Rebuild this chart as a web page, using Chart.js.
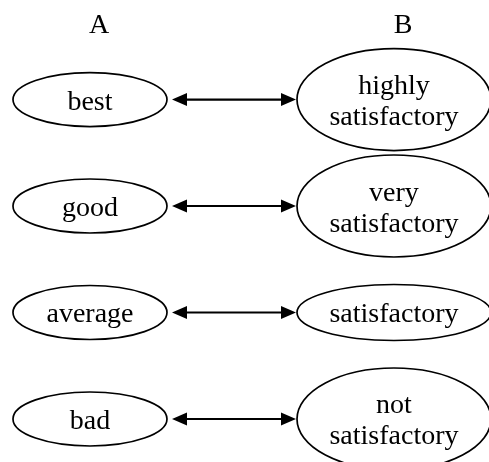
<!DOCTYPE html>
<html>
<head>
<meta charset="utf-8">
<style>
  html, body { margin: 0; padding: 0; background: #ffffff; }
  #wrap { width: 489px; height: 462px; }
</style>
<script src="https://cdn.jsdelivr.net/npm/chart.js@4/dist/chart.umd.min.js"></script>
</head>
<body>
<div id="wrap"><canvas id="c" width="489" height="462"></canvas></div>
<script>
// ---- data ----
const columnHeaders = ['A', 'B'];
const leftNodes = ['best', 'good', 'average', 'bad'];
const rightNodes = [
  ['highly', 'satisfactory'],
  ['very', 'satisfactory'],
  ['satisfactory'],
  ['not', 'satisfactory']
];
const rowIndex = [0, 1, 2, 3];

const FONT = '"Liberation Serif", "Times New Roman", serif';

const diagramPlugin = {
  id: 'diagram',
  afterDatasetsDraw(chart) {
    const ctx = chart.ctx;
    const left = chart.getDatasetMeta(0).data;
    const right = chart.getDatasetMeta(1).data;
    ctx.save();
    ctx.strokeStyle = '#000';
    ctx.fillStyle = '#000';
    ctx.lineWidth = 1.7;
    ctx.font = '28px ' + FONT;
    ctx.textAlign = 'center';
    ctx.textBaseline = 'alphabetic';
    const LH = 31;
    function node(x, y, rx, ry, lines) {
      ctx.beginPath();
      ctx.ellipse(x, y, rx, ry, 0, 0, Math.PI * 2);
      ctx.stroke();
      const n = lines.length;
      lines.forEach((t, k) => {
        const off = (k - (n - 1) / 2) * LH;
        ctx.fillText(t, x, y + off + 10);
      });
    }
    rowIndex.forEach(i => {
      const L = left[i], R = right[i];
      const lrx = 77, lry = 27;
      const rrx = 97;
      const lines = rightNodes[i];
      const rry = lines.length > 1 ? 51 : 28;
      node(L.x, L.y, lrx, lry, [leftNodes[i]]);
      node(R.x, R.y, rrx, rry, lines);
      // double-headed arrow
      const x1 = L.x + lrx + 5, x2 = R.x - rrx - 1, y = L.y;
      const hl = 15, hw = 6.5;
      ctx.lineWidth = 2.2;
      ctx.beginPath();
      ctx.moveTo(x1 + hl - 1, y);
      ctx.lineTo(x2 - hl + 1, y);
      ctx.stroke();
      ctx.beginPath();
      ctx.moveTo(x1, y);
      ctx.lineTo(x1 + hl, y - hw);
      ctx.lineTo(x1 + hl, y + hw);
      ctx.closePath();
      ctx.fill();
      ctx.beginPath();
      ctx.moveTo(x2, y);
      ctx.lineTo(x2 - hl, y - hw);
      ctx.lineTo(x2 - hl, y + hw);
      ctx.closePath();
      ctx.fill();
      ctx.lineWidth = 1.7;
    });
    ctx.restore();
  }
};

new Chart(document.getElementById('c'), {
  type: 'scatter',
  data: {
    datasets: [
      { label: columnHeaders[0], data: rowIndex.map(i => ({ x: 0, y: i })), pointRadius: 0, pointHoverRadius: 0 },
      { label: columnHeaders[1], data: rowIndex.map(i => ({ x: 1, y: i })), pointRadius: 0, pointHoverRadius: 0 }
    ]
  },
  options: {
    responsive: false,
    animation: false,
    events: [],
    layout: { padding: 0 },
    plugins: { legend: { display: false }, tooltip: { enabled: false } },
    scales: {
      x: {
        type: 'linear',
        position: 'top',
        min: -0.296,
        max: 1.3125,
        afterFit: s => { s.height = 40; },
        afterBuildTicks: s => { s.ticks = [{ value: 0 }, { value: 1 }]; },
        grid: { display: false, drawTicks: false },
        border: { display: false },
        ticks: {
          autoSkip: false,
          maxRotation: 0,
          labelOffset: 9,
          padding: -2,
          color: '#000',
          font: { family: FONT, size: 28 },
          callback: v => columnHeaders[v]
        }
      },
      y: {
        type: 'linear',
        display: false,
        reverse: true,
        min: -0.559,
        max: 3.404
      }
    }
  },
  plugins: [diagramPlugin]
});
</script>
</body>
</html>
